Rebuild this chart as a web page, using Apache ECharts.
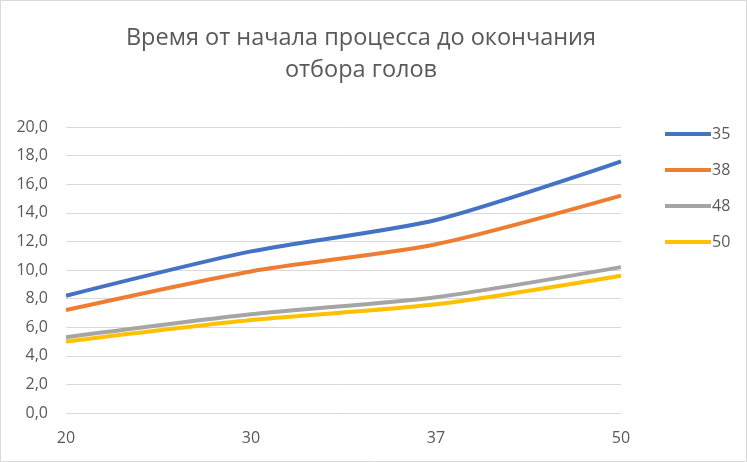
<!DOCTYPE html>
<html><head><meta charset="utf-8">
<script src="https://cdn.jsdelivr.net/npm/echarts@6/dist/echarts.min.js"></script>
<style>html,body{margin:0;padding:0;background:#fff}#c{width:747px;height:462px}</style>
</head><body><div id="c"></div>
<script>
const categories = ['20', '30', '37', '50'];
const seriesNames = ['35', '38', '48', '50'];
const s35 = [8.2, 11.3, 13.5, 17.6];
const s38 = [7.2, 9.9, 11.8, 15.2];
const s48 = [5.3, 6.9, 8.1, 10.2];
const s50 = [5.0, 6.5, 7.6, 9.6];
const colors = ['#4472C4', '#ED7D31', '#A5A5A5', '#FFC000'];
const values = [s35, s38, s48, s50];
const font = '"Open Sans", "Noto Sans", sans-serif';

const chart = echarts.init(document.getElementById('c'), null, {renderer: 'canvas'});
chart.setOption({
  animation: false,
  backgroundColor: '#fff',
  title: {
    text: 'Время от начала процесса до окончания\nотбора голов',
    left: 356, top: 17, textAlign: 'center',
    textStyle: {fontFamily: font, fontSize: 23.5, fontWeight: 'normal', color: '#595959', lineHeight: 32}
  },
  legend: {
    orient: 'vertical', left: 660, top: 118, itemGap: 14,
    itemWidth: 46, itemHeight: 4,
    icon: 'rect',
    textStyle: {fontFamily: font, fontSize: 16, color: '#595959', padding: [0,0,0,-4], lineHeight: 22},
    data: seriesNames
  },
  grid: {left: 66, right: 126, top: 127, bottom: 49},
  xAxis: {
    type: 'category', data: categories, boundaryGap: false,
    axisLine: {show: false}, axisTick: {show: false},
    axisLabel: {fontFamily: font, fontSize: 16, color: '#595959', margin: 17}
  },
  yAxis: {
    type: 'value', min: 0, max: 20, interval: 2,
    axisLine: {show: false}, axisTick: {show: false},
    axisLabel: {fontFamily: font, fontSize: 16, color: '#595959', margin: 18,
      formatter: v => v.toFixed(1).replace('.', ',')},
    splitLine: {lineStyle: {color: '#d9d9d9', width: 1}}
  },
  graphic: [{type: 'rect', shape: {x: 0.5, y: 0.5, width: 746, height: 461},
    style: {fill: 'none', stroke: '#d9d9d9', lineWidth: 1}, silent: true}],
  series: seriesNames.map((n, i) => ({
    name: n, type: 'line', data: values[i], smooth: 0.25,
    symbol: 'none', lineStyle: {width: 4, color: colors[i]},
    itemStyle: {color: colors[i]}
  }))
});
</script></body></html>
